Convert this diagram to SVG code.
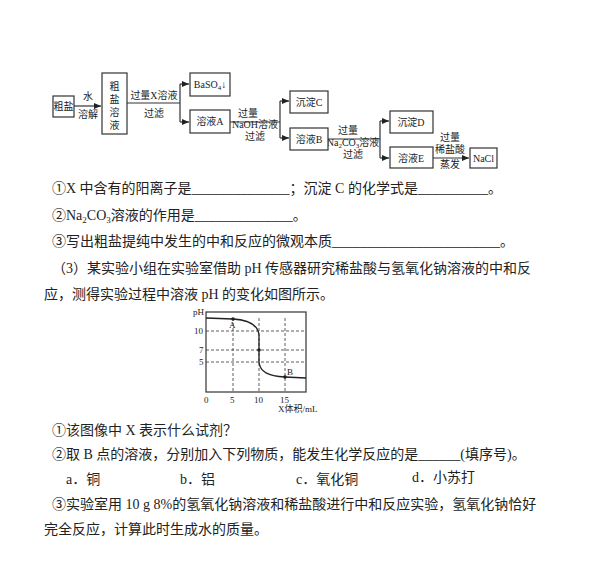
<svg xmlns="http://www.w3.org/2000/svg" width="612" height="587" viewBox="0 0 612 587">
<defs><marker id="ar" markerWidth="8" markerHeight="8" refX="7" refY="4" orient="auto" markerUnits="userSpaceOnUse"><path d="M0,1 L7,4 L0,7 Z" fill="#222"/></marker></defs>
<style>
text{font-family:"Liberation Serif","Noto Sans CJK SC",serif;fill:#222}
.b{fill:#fff;stroke:#333;stroke-width:1.2}
.l{fill:none;stroke:#333;stroke-width:1.2}
.s{font-size:10px}
.t{font-size:14px}
.g{stroke:#333;stroke-width:0.8;stroke-dasharray:3,2;fill:none}
</style>
<rect width="612" height="587" fill="#fff"/>
<g id="connectors">
<path class="l" d="M74,106 H101" marker-end="url(#ar)"/>
<path class="l" d="M127,103 H180 M180,84 V122"/>
<path class="l" d="M180,84 H189" marker-end="url(#ar)"/>
<path class="l" d="M180,122 H189" marker-end="url(#ar)"/>
<path class="l" d="M230,122 H280 M280,101 V138"/>
<path class="l" d="M280,101 H289" marker-end="url(#ar)"/>
<path class="l" d="M280,138 H289" marker-end="url(#ar)"/>
<path class="l" d="M328,139 H380 M380,121 V158"/>
<path class="l" d="M380,121 H389" marker-end="url(#ar)"/>
<path class="l" d="M380,158 H389" marker-end="url(#ar)"/>
<path class="l" d="M433,158 H469" marker-end="url(#ar)"/>
<text class="s" x="88" y="100" text-anchor="middle">水</text>
<text class="s" x="88" y="118" text-anchor="middle">溶解</text>
<text class="s" x="154" y="99" text-anchor="middle">过量X溶液</text>
<text class="s" x="154" y="117" text-anchor="middle">过滤</text>
<text class="s" x="238" y="117">过量</text>
<text class="s" x="255" y="128" text-anchor="middle">NaOH溶液</text>
<text class="s" x="255" y="140" text-anchor="middle">过滤</text>
<text class="s" x="338" y="134">过量</text>
<text class="s" x="353" y="146" text-anchor="middle">Na<tspan font-size="7" dy="2">2</tspan><tspan dy="-2">CO</tspan><tspan font-size="7" dy="2">3</tspan><tspan dy="-2">溶液</tspan></text>
<text class="s" x="353" y="158" text-anchor="middle">过滤</text>
<text class="s" x="450" y="141" text-anchor="middle">过量</text>
<text class="s" x="450" y="153" text-anchor="middle">稀盐酸</text>
<text class="s" x="450" y="168" text-anchor="middle">蒸发</text>
</g>
<g id="n1"><rect class="b" x="53" y="96" width="21" height="21"/><text class="s" x="63.5" y="110" text-anchor="middle">粗盐</text></g>
<g id="n2"><rect class="b" x="102" y="73" width="25" height="61"/><text class="s" x="114.5" y="90" text-anchor="middle">粗</text><text class="s" x="114.5" y="103" text-anchor="middle">盐</text><text class="s" x="114.5" y="116" text-anchor="middle">溶</text><text class="s" x="114.5" y="129" text-anchor="middle">液</text></g>
<g id="n3"><rect class="b" x="190" y="73" width="40" height="23"/><text class="s" x="210" y="88" text-anchor="middle">BaSO<tspan font-size="7" dy="2">4</tspan><tspan dy="-2">↓</tspan></text></g>
<g id="n4"><rect class="b" x="190" y="110" width="40" height="23"/><text class="s" x="210" y="125" text-anchor="middle">溶液A</text></g>
<g id="n5"><rect class="b" x="290" y="91" width="38" height="22"/><text class="s" x="309" y="106" text-anchor="middle">沉淀C</text></g>
<g id="n6"><rect class="b" x="290" y="128" width="38" height="22"/><text class="s" x="309" y="143" text-anchor="middle">溶液B</text></g>
<g id="n7"><rect class="b" x="390" y="111" width="43" height="22"/><text class="s" x="411" y="126" text-anchor="middle">沉淀D</text></g>
<g id="n8"><rect class="b" x="390" y="147" width="43" height="21"/><text class="s" x="411" y="162" text-anchor="middle">溶液E</text></g>
<g id="n9"><rect class="b" x="470" y="148" width="27" height="20"/><text class="s" x="483.5" y="162" text-anchor="middle">NaCl</text></g>
<text class="t" x="52" y="193">①X 中含有的阳离子是______________；沉淀 C 的化学式是__________。</text>
<text class="t" x="52" y="220">②Na<tspan font-size="9" dy="3">2</tspan><tspan dy="-3">CO</tspan><tspan font-size="9" dy="3">3</tspan><tspan dy="-3">溶液的作用是______________。</tspan></text>
<text class="t" x="52" y="246">③写出粗盐提纯中发生的中和反应的微观本质________________________。</text>
<text class="t" x="52" y="273">（3）某实验小组在实验室借助 pH 传感器研究稀盐酸与氢氧化钠溶液的中和反</text>
<text class="t" x="44" y="299">应，测得实验过程中溶液 pH 的变化如图所示。</text>
<g id="chart">
<rect x="206" y="312" width="100" height="80" fill="none" stroke="#333" stroke-width="1.2"/>
<path class="g" d="M233,318 V392 M259,318 V392 M285,318 V392 M206,331 H306 M206,350 H306 M206,362 H306"/>
<path d="M206,318 L233,319 C250,320 258,325 259,335 L259,362 C260,372 268,376 285,377 L306,378" fill="none" stroke="#222" stroke-width="1.3"/>
<circle cx="233" cy="319" r="1.8" fill="#222"/><circle cx="259" cy="350" r="1.8" fill="#222"/><circle cx="285" cy="377" r="1.8" fill="#222"/>
<g font-size="9"><text x="193" y="315">pH</text><text x="194" y="334">10</text><text x="199" y="353">7</text><text x="199" y="365">5</text>
<text x="229" y="328">A</text><text x="287" y="375">B</text>
<text x="204" y="403">0</text><text x="230" y="403">5</text><text x="254" y="403">10</text><text x="280" y="403">15</text>
<text x="278" y="412">X体积/mL</text></g>
</g>
<text class="t" x="52" y="435">①该图像中 X 表示什么试剂？</text>
<text class="t" x="52" y="459">②取 B 点的溶液，分别加入下列物质，能发生化学反应的是______(填序号)。</text>
<text class="t" font-size="13" x="66" y="484">a．铜</text>
<text class="t" font-size="13" x="180" y="484">b．铝</text>
<text class="t" font-size="13" x="296" y="484">c．氧化铜</text>
<text class="t" font-size="13" x="412" y="482">d．小苏打</text>
<text class="t" x="52" y="509">③实验室用 10 g 8%的氢氧化钠溶液和稀盐酸进行中和反应实验，氢氧化钠恰好</text>
<text class="t" x="44" y="534">完全反应，计算此时生成水的质量。</text>
</svg>
